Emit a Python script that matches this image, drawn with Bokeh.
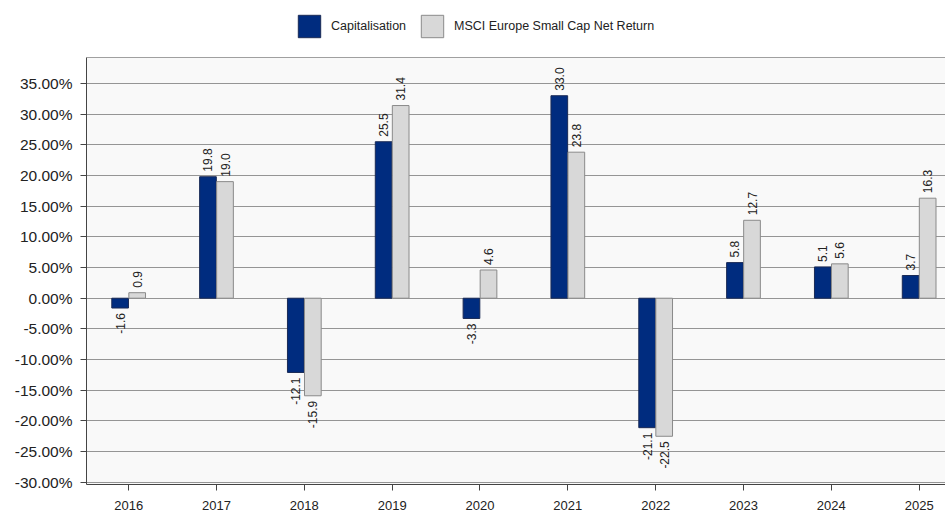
import math
from bokeh.plotting import figure
from bokeh.layouts import column
from bokeh.models import (ColumnDataSource, Range1d, FixedTicker, Legend, LegendItem,
                          NumeralTickFormatter, Span)
from bokeh.core.properties import value
from bokeh.embed import file_html
from bokeh.resources import INLINE

years = ["2016", "2017", "2018", "2019", "2020", "2021", "2022", "2023", "2024", "2025"]
capitalisation = [-1.6, 19.8, -12.1, 25.5, -3.3, 33.0, -21.1, 5.8, 5.1, 3.7]
msci = [0.9, 19.0, -15.9, 31.4, 4.6, 23.8, -22.5, 12.7, 5.6, 16.3]
series_names = ["Capitalisation", "MSCI Europe Small Cap Net Return"]
y_ticks = [-30, -25, -20, -15, -10, -5, 0, 5, 10, 15, 20, 25, 30, 35]

BLUE = "#002C7F"
GREY = "#D8D8D8"
BLUE_LINE = "#1a2a55"
GREY_LINE = "#8A8A8A"
FONT = "Liberation Sans"

idx = list(range(len(years)))
off = 0.097
bw = 0.19
W = 945

# ---------------- legend strip (proxy renderers kept outside the visible range) ----------------
lg = figure(width=W, height=49, output_backend="svg", toolbar_location=None,
            x_range=Range1d(0, 1), y_range=Range1d(1, 2),
            x_axis_type=None, y_axis_type=None,
            min_border_left=0, min_border_right=0, min_border_top=0, min_border_bottom=0)
lg.outline_line_color = None
lg.background_fill_color = "white"
lg.border_fill_color = "white"
lg.xgrid.visible = False
lg.ygrid.visible = False
proxy = ColumnDataSource(dict(x=[idx[0]], top=[0]))
d1 = lg.vbar(x="x", top="top", bottom=0, width=0.1, source=proxy,
             fill_color=BLUE, line_color=BLUE_LINE)
d2 = lg.vbar(x="x", top="top", bottom=0, width=0.1, source=proxy,
             fill_color=GREY, line_color=GREY_LINE)
legend = Legend(items=[LegendItem(label=series_names[0], renderers=[d1]),
                       LegendItem(label=series_names[1], renderers=[d2])],
                orientation="horizontal", location=(209, 9),
                glyph_width=28, glyph_height=28, label_text_font=FONT,
                label_text_font_size="12.5px", label_text_color="#222222",
                border_line_color=None, background_fill_alpha=0,
                padding=2, margin=0, spacing=12, label_standoff=8)
lg.add_layout(legend, "center")

# ---------------- main chart ----------------
p = figure(width=W, height=463, output_backend="svg", toolbar_location=None,
           x_range=Range1d(-0.48, 9.30), y_range=Range1d(-30.36, 39.23),
           min_border_left=86, min_border_right=0, min_border_top=8, min_border_bottom=28)
p.background_fill_color = "#F9F9F9"
p.border_fill_color = "white"
p.outline_line_color = None

src_a = ColumnDataSource(dict(x=[i - off for i in idx], top=capitalisation,
                              lbl=[f"{v:.1f}" for v in capitalisation]))
src_b = ColumnDataSource(dict(x=[i + off for i in idx], top=msci,
                              lbl=[f"{v:.1f}" for v in msci]))

r1 = p.vbar(x="x", top="top", bottom=0, width=bw, source=src_a,
            fill_color=BLUE, line_color=BLUE_LINE, line_width=1)
r2 = p.vbar(x="x", top="top", bottom=0, width=bw, source=src_b,
            fill_color=GREY, line_color=GREY_LINE, line_width=1)

for src, vals in ((src_a, capitalisation), (src_b, msci)):
    pos = ColumnDataSource(dict(x=[src.data["x"][i] for i in idx if vals[i] >= 0],
                                y=[vals[i] for i in idx if vals[i] >= 0],
                                t=[src.data["lbl"][i] for i in idx if vals[i] >= 0]))
    neg = ColumnDataSource(dict(x=[src.data["x"][i] for i in idx if vals[i] < 0],
                                y=[vals[i] for i in idx if vals[i] < 0],
                                t=[src.data["lbl"][i] for i in idx if vals[i] < 0]))
    p.text(x="x", y="y", text="t", source=pos, angle=math.pi / 2, text_align="left",
           text_baseline="middle", y_offset=-5, text_font=value(FONT),
           text_font_size="12px", text_color="#222222")
    p.text(x="x", y="y", text="t", source=neg, angle=math.pi / 2, text_align="right",
           text_baseline="middle", y_offset=5, text_font=value(FONT),
           text_font_size="12px", text_color="#222222")

p.add_layout(Span(location=39.23, dimension="width", line_color="#444444", line_width=1))

p.xgrid.grid_line_color = None
p.ygrid.ticker = FixedTicker(ticks=y_ticks)
p.ygrid.grid_line_color = "#959595"
p.ygrid.grid_line_width = 1

p.yaxis.ticker = FixedTicker(ticks=y_ticks)
p.yaxis.formatter = NumeralTickFormatter(format="0.00")
p.yaxis.major_label_overrides = {t: f"{t:.2f}%" for t in y_ticks}
p.yaxis.major_label_text_font = FONT
p.yaxis.major_label_text_font_size = "15.5px"
p.yaxis.major_label_text_color = "#222222"
p.yaxis.major_tick_out = 6
p.yaxis.major_tick_in = 0
p.yaxis.minor_tick_line_color = None
p.yaxis.major_label_standoff = 8
p.yaxis.axis_line_color = "#444444"
p.yaxis.major_tick_line_color = "#444444"

p.xaxis.ticker = FixedTicker(ticks=idx)
p.xaxis.major_label_overrides = {i: y for i, y in zip(idx, years)}
p.xaxis.major_label_text_font = FONT
p.xaxis.major_label_text_font_size = "13px"
p.xaxis.major_label_text_color = "#222222"
p.xaxis.major_tick_out = 6
p.xaxis.major_tick_in = 0
p.xaxis.minor_tick_line_color = None
p.xaxis.major_label_standoff = 10
p.xaxis.axis_line_color = "#444444"
p.xaxis.major_tick_line_color = "#444444"

layout = column(lg, p, spacing=0)
open("out.html", "w").write(file_html(layout, INLINE))
